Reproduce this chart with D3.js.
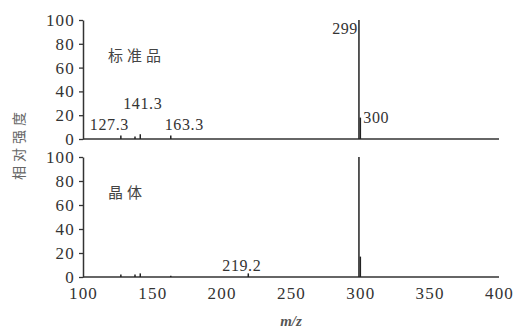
<!DOCTYPE html>
<html>
<head>
<meta charset="utf-8">
<script src="https://cdn.jsdelivr.net/npm/d3@7"></script>
<style>
  body { margin: 0; background: #fff; }
</style>
</head>
<body>
<svg id="chart" width="515" height="329"></svg>
<script>
// ── data ──
const xTicks = [100, 150, 200, 250, 300, 350, 400];
const yTicks = [0, 20, 40, 60, 80, 100];

const stdMz  = [127.3, 137.5, 141.3, 163.3, 299, 300];
const stdInt = [3, 2, 4, 3, 100, 18];
const stdLabels = [
  { mz: 127.3, y: 12, text: '127.3' },
  { mz: 141.3, y: 30, text: '141.3' },
  { mz: 163.3, y: 12, text: '163.3' },
  { mz: 299,   y: 93, text: '299' },
  { mz: 300,   y: 18, text: '300' }
];

const crystalMz  = [127.3, 137.5, 141.3, 163.3, 219.2, 299, 300];
const crystalInt = [2, 2, 3, 1, 3, 100, 17];
const crystalLabels = [
  { mz: 219.2, y: 10, text: '219.2' }
];

// label offsets from their peak (px), placed as in the figure
const labelDx = { '127.3': -31, '141.3': -17, '163.3': -6, '219.2': -26, '299': -1, '300': 3 };

// ── layout ──
const SERIF = '"Liberation Serif"';
const CJK = '"Noto Sans CJK SC"';
const svg = d3.select('#chart');
const x = d3.scaleLinear().domain([100, 400]).range([83, 499]);
const panels = [
  { mz: stdMz, inten: stdInt, labels: stdLabels, name: '标准品', top: 20, bottom: 139 },
  { mz: crystalMz, inten: crystalInt, labels: crystalLabels, name: '晶体', top: 157, bottom: 277 }
];

panels.forEach((p, i) => {
  const y = d3.scaleLinear().domain([0, 100]).range([p.bottom, p.top]);
  const g = svg.append('g');

  // y axis
  const ya = g.append('g').attr('transform', `translate(${x(100)},0)`)
    .call(d3.axisLeft(y).tickValues(yTicks).tickSize(4).tickSizeOuter(0))
    .attr('font-family', SERIF).attr('font-size', 17);
  ya.select('.domain').attr('stroke', '#333').attr('stroke-width', 1.5);
  ya.selectAll('.tick line').attr('stroke', '#333').attr('stroke-width', 1.3);
  ya.selectAll('.tick text').attr('x', -8).attr('fill', '#333').style('letter-spacing', '1.2px');

  // baseline
  g.append('line')
    .attr('x1', x(100)).attr('x2', x(400))
    .attr('y1', y(0)).attr('y2', y(0))
    .attr('stroke', '#333').attr('stroke-width', 1.5);

  // peaks
  g.selectAll('line.peak').data(p.mz.map((m, k) => ({ m, v: p.inten[k] })))
    .enter().append('line').attr('class', 'peak')
    .attr('x1', d => x(d.m)).attr('x2', d => x(d.m))
    .attr('y1', y(0)).attr('y2', d => y(d.v))
    .attr('stroke', '#222').attr('stroke-width', 1.5);

  // peak labels
  g.selectAll('text.lbl').data(p.labels).enter().append('text')
    .attr('class', 'lbl')
    .attr('x', d => x(d.mz) + labelDx[d.text])
    .attr('y', d => y(d.y))
    .attr('text-anchor', d => d.text === '299' ? 'end' : 'start')
    .attr('dy', '0.35em')
    .attr('font-family', SERIF).attr('font-size', 16).attr('fill', '#333')
    .style('letter-spacing', '0.6px')
    .text(d => d.text);

  // sample name
  g.append('text')
    .attr('x', 108).attr('y', y(70)).attr('dy', '0.35em')
    .attr('font-family', CJK).attr('font-size', 15)
    .style('letter-spacing', '4px').attr('fill', '#444')
    .text(p.name);

  if (i === 1) {
    const xa = g.append('g').attr('transform', `translate(0,${y(0)})`)
      .call(d3.axisBottom(x).tickValues(xTicks).tickSize(0))
      .attr('font-family', SERIF).attr('font-size', 17);
    xa.select('.domain').remove();
    xa.selectAll('.tick text').attr('dy', '0.71em').attr('y', 10).attr('fill', '#333')
      .style('letter-spacing', '1.2px');
  }
});

// axis titles
svg.append('text')
  .attr('x', 291).attr('y', 326).attr('text-anchor', 'middle')
  .attr('font-family', SERIF).attr('font-size', 15)
  .attr('font-style', 'italic').attr('font-weight', 'bold').attr('fill', '#555')
  .text('m/z');

svg.append('text')
  .attr('transform', 'translate(19,144) rotate(-90)')
  .attr('text-anchor', 'middle').attr('dy', '0.35em')
  .attr('font-family', CJK).attr('font-size', 14)
  .style('letter-spacing', '4px').attr('fill', '#666')
  .text('相对强度');
</script>
</body>
</html>
